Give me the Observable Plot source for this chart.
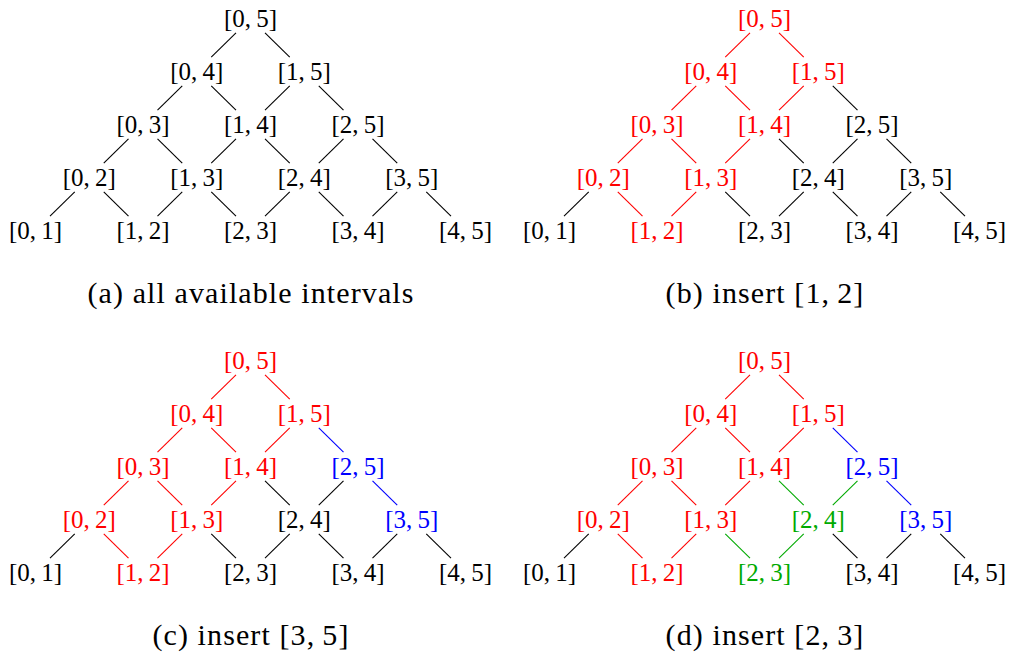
<!DOCTYPE html>
<html>
<head>
<meta charset="utf-8">
<script src="https://cdn.jsdelivr.net/npm/d3@7"></script>
<script src="https://cdn.jsdelivr.net/npm/@observablehq/plot@0.6"></script>
<style>
  html, body { margin: 0; padding: 0; background: #fff; }
  #root { position: relative; width: 1011px; height: 659px; overflow: hidden; font-family: "Liberation Serif", "DejaVu Serif", serif; }
  .panel { position: absolute; width: 497px; height: 330px; }
  .panel svg { position: absolute; left: 0; top: 0; }
  .cap { position: absolute; left: 0; width: 502px; top: 276px; height: 34px; line-height: 34px; text-align: center; font-size: 30px; letter-spacing: 1.1px; color: #000; }
</style>
</head>
<body>
<div id="root"></div>
<script>
// Interval lattice on {0..5}
const intervals = [
  [0,5],
  [0,4],[1,5],
  [0,3],[1,4],[2,5],
  [0,2],[1,3],[2,4],[3,5],
  [0,1],[1,2],[2,3],[3,4],[4,5]
];
// Panel titles
const captions = ["(a) all available intervals", "(b) insert [1,\u20092]", "(c) insert [3,\u20095]", "(d) insert [2,\u20093]"];
// Highlighted intervals per insertion step
const redSet = ["0,5","0,4","1,5","0,3","1,4","0,2","1,3","1,2"];
const blueSet = ["2,5","3,5"];
const greenSet = ["2,4","2,3"];
const panelColorSets = [
  [],
  [["#ff0000", redSet]],
  [["#ff0000", redSet], ["#0000ff", blueSet]],
  [["#ff0000", redSet], ["#0000ff", blueSet], ["#00aa00", greenSet]]
];
const panelPos = [[0,0],[514,0],[0,342],[514,342]];

const key = d => d[0] + "," + d[1];
const nodes = intervals.map(d => ({i: d[0], j: d[1], k: key(d), c: (d[0]+d[1])/2, lev: d[1]-d[0], label: `[${d[0]},\u2009${d[1]}]`}));
const byKey = new Map(nodes.map(n => [n.k, n]));
const edges = [];
for (const n of nodes) {
  if (n.lev > 1) {
    edges.push({p: n, ch: byKey.get(n.i + "," + (n.j-1))});
    edges.push({p: n, ch: byKey.get((n.i+1) + "," + n.j)});
  }
}
const t0 = 0.27, t1 = 0.73;

const root = document.getElementById("root");
panelColorSets.forEach((sets, pi) => {
  const colorOf = new Map();
  for (const [col, s] of sets) for (const k of s) colorOf.set(k, col);
  const nc = n => colorOf.get(n.k) || "#000";
  const ec = e => (colorOf.has(e.p.k) && colorOf.has(e.ch.k)) ? colorOf.get(e.ch.k) : "#000";
  const chart = Plot.plot({
    width: 497,
    height: 260,
    margin: 0,
    x: {type: "linear", domain: [0.5, 4.5], range: [35, 465]},
    y: {type: "linear", domain: [5, 1], range: [18, 230]},
    axis: null,
    style: {background: "transparent", fontFamily: "'Liberation Serif', 'DejaVu Serif', serif"},
    marks: [
      Plot.link(edges, {
        x1: e => e.p.c + t0*(e.ch.c - e.p.c),
        y1: e => e.p.lev + t0*(e.ch.lev - e.p.lev),
        x2: e => e.p.c + t1*(e.ch.c - e.p.c),
        y2: e => e.p.lev + t1*(e.ch.lev - e.p.lev),
        stroke: ec,
        strokeWidth: 1.1
      }),
      Plot.text(nodes, {x: "c", y: "lev", text: "label", fill: nc, fontSize: 25, textAnchor: "middle"})
    ]
  });
  const div = document.createElement("div");
  div.className = "panel";
  div.style.left = panelPos[pi][0] + "px";
  div.style.top = panelPos[pi][1] + "px";
  div.appendChild(chart);
  const cap = document.createElement("div");
  cap.className = "cap";
  cap.textContent = captions[pi];
  div.appendChild(cap);
  root.appendChild(div);
});
</script>
</body>
</html>
